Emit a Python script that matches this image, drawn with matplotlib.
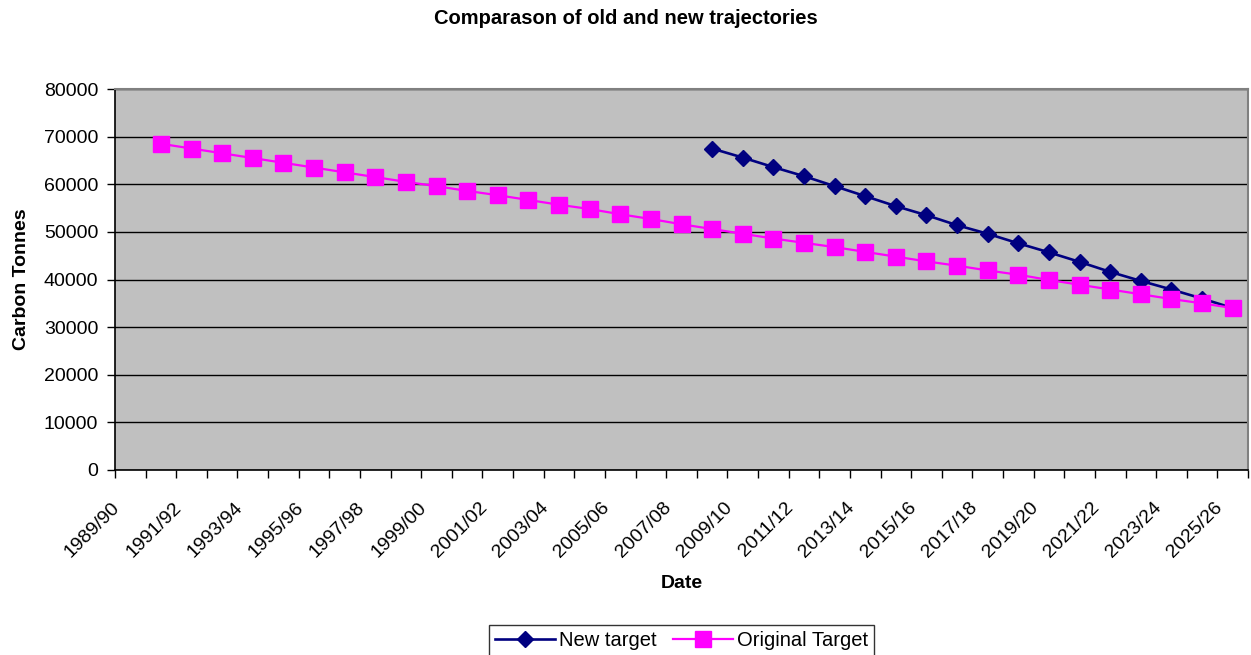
import matplotlib
matplotlib.use("Agg")
import matplotlib.pyplot as plt
import matplotlib.transforms as mtransforms
from matplotlib.lines import Line2D

plt.rcParams['font.family'] = ['Liberation Sans', 'DejaVu Sans']

# financial years 1989/90 .. 2025/26
years = [f"{y}/{str(y + 1)[-2:]}" for y in range(1989, 2026)]

# original trajectory, 1990/91 onwards
original_start = 1
original_target = [68500, 67500, 66500, 65500, 64500, 63500, 62500, 61500, 60500,
                   59600, 58600, 57700, 56700, 55700, 54800, 53700, 52700, 51600,
                   50600, 49600, 48600, 47700, 46800, 45800, 44800, 43800, 42900,
                   41900, 41000, 39900, 38900, 37900, 36900, 35900, 35000, 34000]

# revised trajectory, 2008/09 onwards
new_start = 19
new_target = [67500, 65600, 63600, 61700, 59600, 57500, 55400, 53500, 51400,
              49600, 47600, 45700, 43700, 41600, 39700, 37900, 36000, 34000]

y_ticks = list(range(0, 80001, 10000))

fig = plt.figure(figsize=(12.51, 6.55), dpi=100, facecolor='white')
ax = fig.add_axes([115 / 1251, 1 - 470 / 655, 1133 / 1251, 381 / 655])
ax.set_facecolor('#C0C0C0')

x_orig = list(range(original_start, original_start + len(original_target)))
x_new = list(range(new_start, new_start + len(new_target)))

ax.plot(x_new, new_target, color='#000080', lw=1.9, marker='D', ms=8,
        mfc='#000080', mec='#000080', zorder=3, clip_on=False)
ax.plot(x_orig, original_target, color='#FF00FF', lw=1.6, marker='s', ms=12,
        mfc='#FF00FF', mec='#FF00FF', zorder=4, clip_on=False)

ax.set_xlim(-0.5, len(years) - 0.5)
ax.set_ylim(0, 80000)
ax.set_yticks(y_ticks)
ax.set_yticklabels([str(v) for v in y_ticks], fontsize=14)
ax.yaxis.grid(True, color='black', lw=1)
ax.set_axisbelow(True)

# tick marks between categories, labels on every other category
ax.set_xticks([i - 0.5 for i in range(len(years) + 1)], minor=True)
ax.set_xticks(range(0, len(years), 2))
ax.set_xticklabels(years[::2], rotation=45, ha='right', va='top', fontsize=14)
ax.tick_params(axis='x', which='major', length=0, pad=21)
ax.tick_params(axis='x', which='minor', length=6, width=1, direction='out')
ax.tick_params(axis='y', length=6, width=1, direction='out', pad=6)
shift = mtransforms.ScaledTranslation(-7 / 100, 0, fig.dpi_scale_trans)
for lbl in ax.get_xticklabels():
    lbl.set_transform(lbl.get_transform() + shift)

for side in ['top', 'right']:
    ax.spines[side].set_color('#808080')
    ax.spines[side].set_linewidth(1.5)
for side in ['left', 'bottom']:
    ax.spines[side].set_color('black')
    ax.spines[side].set_linewidth(1.2)

ax.set_xlabel('Date', fontsize=14, fontweight='bold')
ax.xaxis.set_label_coords(0.5, -0.275)
ax.set_ylabel('Carbon Tonnes', fontsize=14, fontweight='bold')
ax.yaxis.set_label_coords(-0.075, 0.5)

fig.text(0.5, 1 - 18 / 655, 'Comparason of old and new trajectories',
         ha='center', va='center', fontsize=14.5, fontweight='bold')

handles = [
    Line2D([], [], color='#000080', lw=1.9, marker='D', ms=8),
    Line2D([], [], color='#FF00FF', lw=1.6, marker='s', ms=12),
]
leg = fig.legend(handles, ['New target', 'Original Target'], loc='upper center',
                 bbox_to_anchor=(681.5 / 1251, 1 - 625 / 655), ncol=2, fontsize=14.5,
                 frameon=True, fancybox=False, edgecolor='black',
                 handlelength=3, columnspacing=0.8, handletextpad=0.2,
                 borderpad=0.3, borderaxespad=0)
leg.get_frame().set_linewidth(1)

fig.savefig('out.png', dpi=100, facecolor='white')
